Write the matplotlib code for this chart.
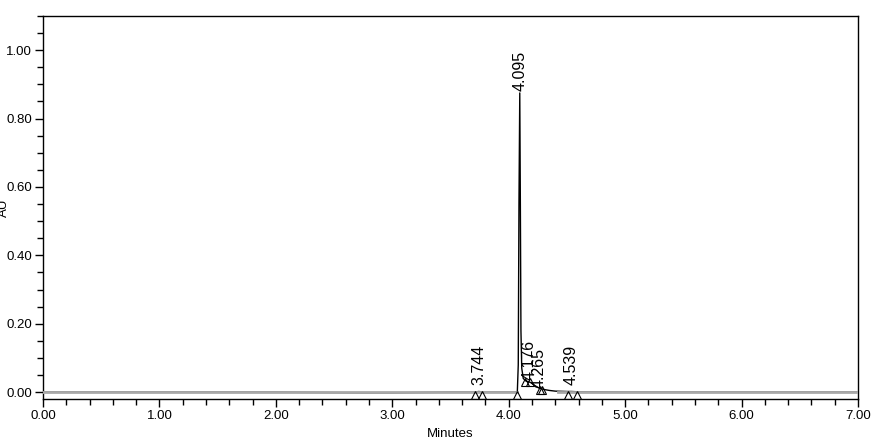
import numpy as np
import matplotlib
matplotlib.use("Agg")
import matplotlib.pyplot as plt
from matplotlib.ticker import MultipleLocator, FormatStrFormatter

plt.rcParams['font.family'] = ['Liberation Sans', 'DejaVu Sans']

# chromatogram trace (minutes, AU)
trace_t = [0.0, 0.5, 1.0, 1.5, 2.0, 2.75, 3.0, 3.5, 3.7, 3.744, 3.78, 4.0, 4.05, 4.074,
           4.082, 4.088, 4.095, 4.100, 4.105, 4.112, 4.125, 4.15, 4.176, 4.20, 4.23,
           4.265, 4.30, 4.35, 4.40, 4.50, 4.539, 4.60, 5.0, 6.0, 7.0]
trace_v = [0.0, 0.0, 0.0, 0.0, 0.0, -0.002, -0.002, 0.0, 0.0, 0.002, 0.0, 0.0, 0.0, 0.001,
           0.08, 0.55, 0.875, 0.55, 0.18, 0.07, 0.04, 0.032, 0.030, 0.026, 0.016,
           0.012, 0.008, 0.005, 0.003, 0.002, 0.002, 0.001, 0.0, 0.0, 0.0]

# integration baseline (gray)
base_t = [0.0, 4.074, np.nan, 4.42, 7.0]
base_v = [0.0, 0.0, np.nan, 0.0, 0.0]

# peaks
peak_rt = [3.744, 4.095, 4.176, 4.265, 4.539]
peak_h = [0.002, 0.875, 0.030, 0.012, 0.002]
peak_lbl = ["3.744", "4.095", "4.176", "4.265", "4.539"]

# integration start/end markers
mark_t = [3.71, 3.768, 4.074, 4.14, 4.183, 4.27, 4.29, 4.51, 4.59]
mark_v = [-0.009, -0.009, -0.009, 0.030, 0.030, 0.006, 0.006, -0.009, -0.009]

fig = plt.figure(figsize=(8.93, 4.45), dpi=100)
ax = fig.add_axes([43/893, 1-399/445, (858-43)/893, (399-16)/445])

ax.plot(trace_t, trace_v, color='black', lw=1.0, zorder=2)
ax.plot(base_t, base_v, color='#a8a8a8', lw=2.0, zorder=3)
ax.plot(mark_t, mark_v, linestyle='none', marker='^', markersize=5.5,
        markerfacecolor='none', markeredgecolor='black', markeredgewidth=0.8, zorder=4)

offsets = [4.5, 1.5, 1.5, 0, 4.5]
for rt, h, lbl, off in zip(peak_rt, peak_h, peak_lbl, offsets):
    ax.annotate(lbl, xy=(rt, h), xytext=(0, off), textcoords='offset points',
                rotation=90, ha='center', va='bottom', fontsize=11.5)

ax.set_xlim(0, 7)
ax.set_ylim(-0.02, 1.10)
ax.xaxis.set_major_locator(MultipleLocator(1.0))
ax.xaxis.set_minor_locator(MultipleLocator(0.2))
ax.yaxis.set_major_locator(MultipleLocator(0.2))
ax.yaxis.set_minor_locator(MultipleLocator(0.05))
ax.xaxis.set_major_formatter(FormatStrFormatter('%.2f'))
ax.yaxis.set_major_formatter(FormatStrFormatter('%.2f'))
ax.tick_params(which='major', direction='out', length=6, width=1, labelsize=9.5, pad=2)
ax.tick_params(which='minor', direction='out', length=4, width=1)
for s in ax.spines.values():
    s.set_linewidth(1.0)

ax.set_xlabel('Minutes', fontsize=9.5, labelpad=4)
ax.set_ylabel('AU', fontsize=9.5)
ax.yaxis.set_label_coords(-0.040, 0.5)

fig.savefig('out.png', dpi=100)
